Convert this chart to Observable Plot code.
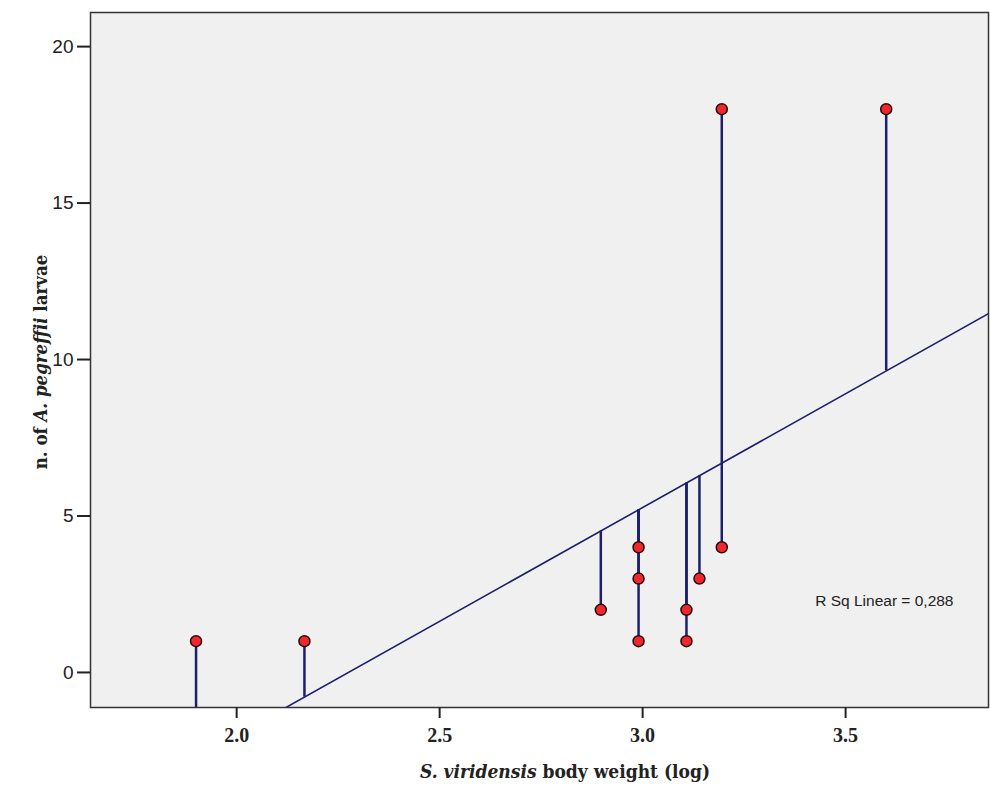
<!DOCTYPE html>
<html><head><meta charset="utf-8">
<script src="https://cdn.jsdelivr.net/npm/d3@7"></script>
<script src="https://cdn.jsdelivr.net/npm/@observablehq/plot@0.6"></script>
<style>body{margin:0;background:#fff}</style>
</head><body><div id="chart"></div>
<script>
const bodyWeightLog = [1.90, 2.167, 2.897, 2.99, 2.99, 2.99, 3.108, 3.108, 3.14, 3.195, 3.195, 3.60];
const larvae = [1, 1, 2, 1, 3, 4, 1, 2, 3, 4, 18, 18];
const xTicks = [2.0, 2.5, 3.0, 3.5];
const yTicks = [0, 5, 10, 15, 20];
const xDomain = [1.64, 3.852];
const yDomain = [-1.12, 21.09];
const rsqLabel = "R Sq Linear = 0,288";

// OLS fit
const mx = d3.mean(bodyWeightLog), my = d3.mean(larvae);
const sxy = d3.sum(bodyWeightLog, (x, i) => (x - mx) * (larvae[i] - my));
const sxx = d3.sum(bodyWeightLog, x => (x - mx) ** 2);
const slope = sxy / sxx, intercept = my - slope * mx;
const fit = x => intercept + slope * x;

const data = bodyWeightLog.map((x, i) => ({x, y: larvae[i], fit: fit(x)}));
const fitLine = xDomain.map(x => ({x, y: fit(x)}));
const navy = "#1c1f6b";

const plot = Plot.plot({
  width: 990, height: 787,
  marginLeft: 90, marginRight: 2, marginTop: 12, marginBottom: 80,
  x: {domain: xDomain},
  y: {domain: yDomain},
  marks: [
    Plot.frame({fill: "#f0f0f0", stroke: "#333", strokeWidth: 1.5}),
    Plot.line(fitLine, {x: "x", y: "y", stroke: navy, strokeWidth: 1.6, clip: true}),
    Plot.ruleX(data, {x: "x", y1: "y", y2: "fit", stroke: navy, strokeWidth: 2.5, clip: true}),
    Plot.dot(data, {x: "x", y: "y", r: 5.5, fill: "#f0282d", stroke: "#2a0a0a", strokeWidth: 1.5}),
    Plot.text([rsqLabel], {text: d => d, frameAnchor: "bottom-right", dx: -35, dy: -102, textAnchor: "end",
      fontFamily: "Liberation Sans, Arial, sans-serif", fontSize: 15.5, fill: "#222"}),
    Plot.axisX({ticks: xTicks, tickFormat: d3.format(".1f"), tickSize: 11, tickPadding: 9, strokeWidth: 2, stroke: "#222",
      fontFamily: "Liberation Serif, Times New Roman, serif", fontWeight: "bold", fontSize: 20, fill: "#222", label: null}),
    Plot.axisY({ticks: yTicks, tickSize: 13, tickPadding: 4, strokeWidth: 2, stroke: "#222",
      fontFamily: "Liberation Sans, Arial, sans-serif", fontSize: 19, fill: "#222", label: null})
  ]
});
document.getElementById("chart").append(plot);

const svg = d3.select(plot);
const serif = "'DejaVu Serif Condensed', 'DejaVu Serif', serif";
const xl = svg.append("text").attr("x", 565).attr("y", 778).attr("text-anchor", "middle")
  .attr("font-family", serif).attr("font-size", 19).attr("font-weight", "bold").attr("fill", "#222");
xl.append("tspan").attr("font-style", "italic").text("S. viridensis");
xl.append("tspan").text(" body weight (log)");
const yl = svg.append("text").attr("transform", "translate(47,362) rotate(-90)").attr("text-anchor", "middle")
  .attr("font-family", serif).attr("font-size", 18.5).attr("font-weight", "bold").attr("fill", "#222");
yl.append("tspan").text("n. of ");
yl.append("tspan").attr("font-style", "italic").text("A. pegreffii");
yl.append("tspan").text(" larvae");
</script></body></html>
